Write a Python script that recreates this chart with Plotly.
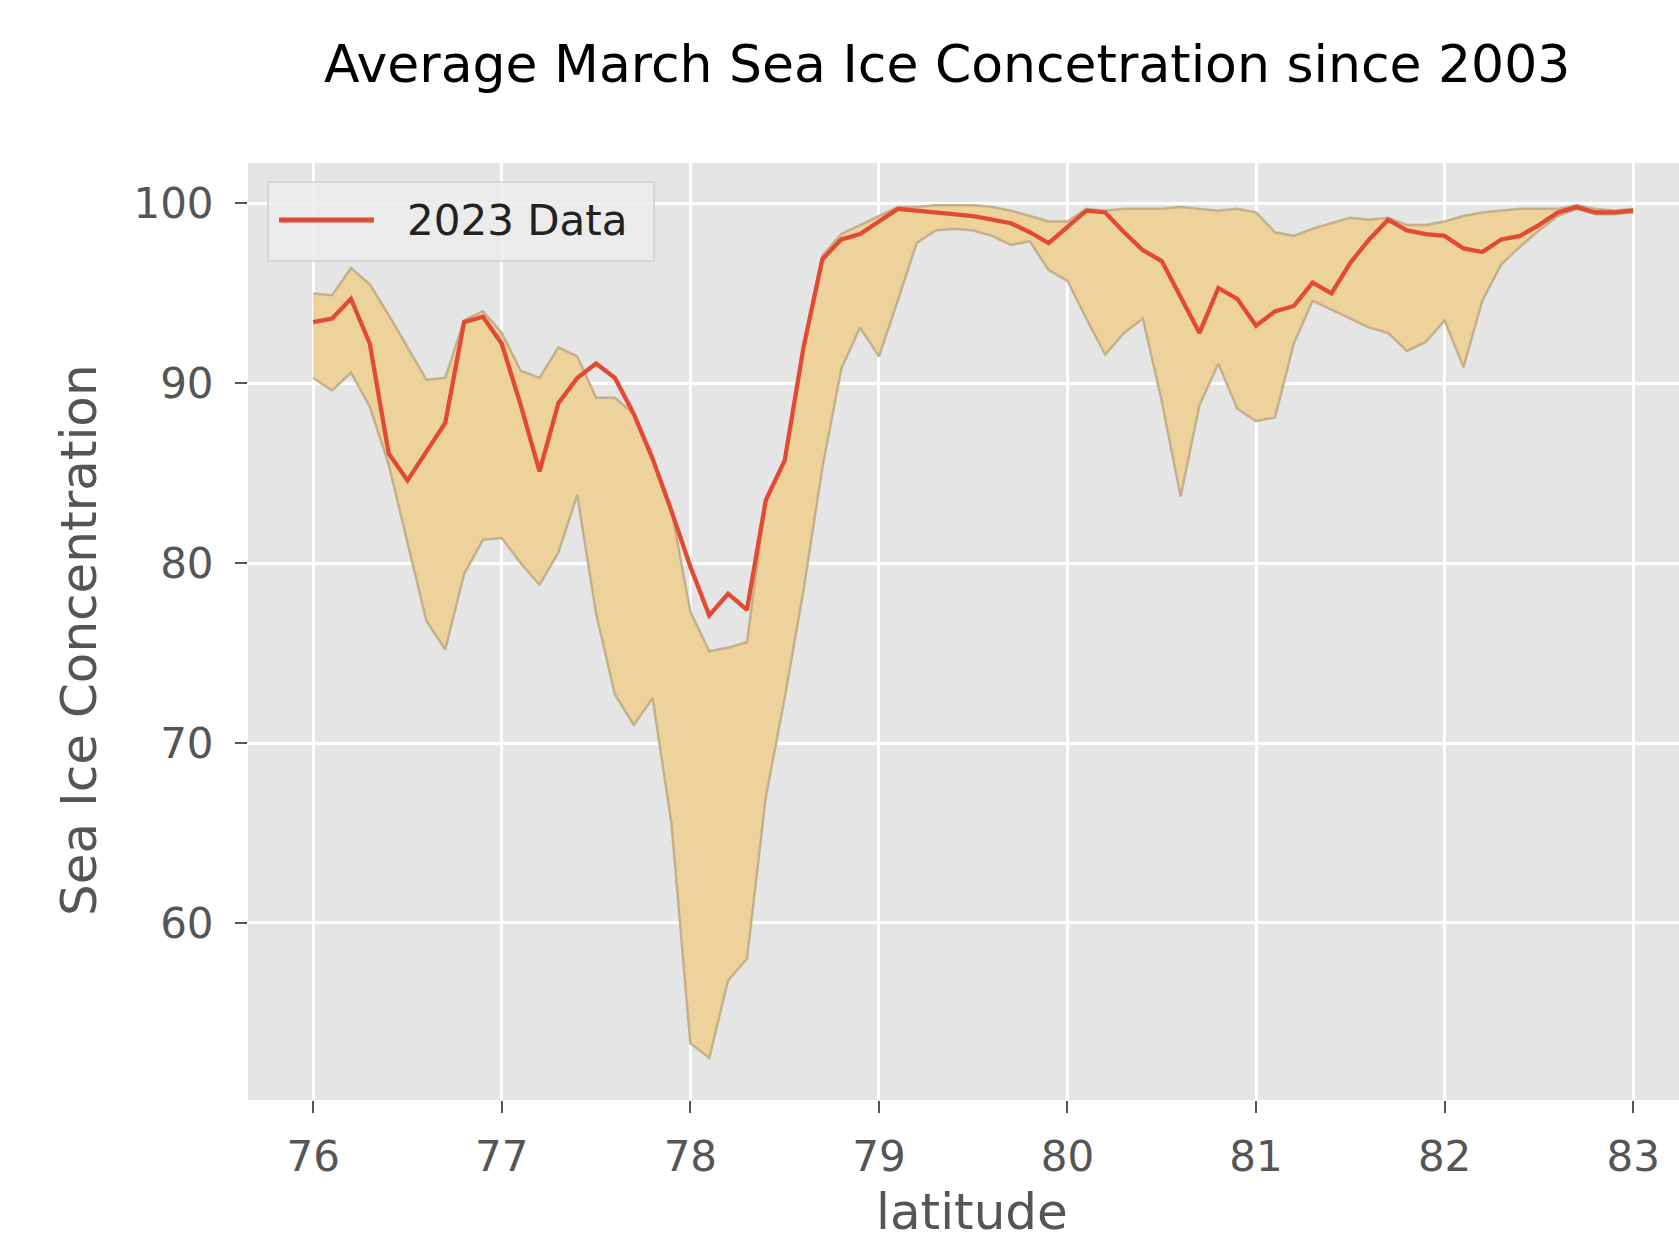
import plotly.graph_objects as go

# ---- data ----
latitude = [76.0, 76.1, 76.2, 76.3, 76.4, 76.5, 76.6, 76.7, 76.8, 76.9,
            77.0, 77.1, 77.2, 77.3, 77.4, 77.5, 77.6, 77.7, 77.8, 77.9,
            78.0, 78.1, 78.2, 78.3, 78.4, 78.5, 78.6, 78.7, 78.8, 78.9,
            79.0, 79.1, 79.2, 79.3, 79.4, 79.5, 79.6, 79.7, 79.8, 79.9,
            80.0, 80.1, 80.2, 80.3, 80.4, 80.5, 80.6, 80.7, 80.8, 80.9,
            81.0, 81.1, 81.2, 81.3, 81.4, 81.5, 81.6, 81.7, 81.8, 81.9,
            82.0, 82.1, 82.2, 82.3, 82.4, 82.5, 82.6, 82.7, 82.8, 82.9,
            83.0]

data_2023 = [93.4, 93.6, 94.7, 92.2, 86.1, 84.6, 86.2, 87.8, 93.4, 93.7,
             92.2, 88.8, 85.1, 88.9, 90.3, 91.1, 90.3, 88.3, 85.8, 82.9,
             79.8, 77.1, 78.3, 77.4, 83.5, 85.7, 92.0, 96.9, 98.0, 98.3,
             99.0, 99.7, 99.6, 99.5, 99.4, 99.3, 99.1, 98.9, 98.4, 97.8,
             98.7, 99.6, 99.5, 98.4, 97.4, 96.8, 94.8, 92.8, 95.3, 94.7,
             93.2, 94.0, 94.3, 95.6, 95.0, 96.7, 98.0, 99.1, 98.5, 98.3,
             98.2, 97.5, 97.3, 98.0, 98.2, 98.8, 99.5, 99.8, 99.5, 99.5,
             99.6]

max_since_2003 = [95.0, 94.9, 96.4, 95.5, 93.8, 92.0, 90.2, 90.3, 93.5, 94.0,
                  92.8, 90.7, 90.3, 92.0, 91.5, 89.2, 89.2, 88.3, 85.8, 82.9,
                  77.3, 75.1, 75.3, 75.6, 83.5, 85.8, 92.1, 97.1, 98.3, 98.8,
                  99.3, 99.8, 99.8, 99.9, 99.9, 99.9, 99.8, 99.6, 99.3, 99.0,
                  99.0, 99.7, 99.6, 99.7, 99.7, 99.7, 99.8, 99.7, 99.6, 99.7,
                  99.5, 98.4, 98.2, 98.6, 98.9, 99.2, 99.1, 99.2, 98.8, 98.8,
                  99.0, 99.3, 99.5, 99.6, 99.7, 99.7, 99.7, 99.9, 99.7, 99.6,
                  99.7]

min_since_2003 = [90.3, 89.6, 90.6, 88.7, 85.5, 81.2, 76.8, 75.2, 79.4, 81.3,
                  81.4, 80.0, 78.8, 80.6, 83.8, 77.2, 72.7, 71.0, 72.5, 65.5,
                  53.3, 52.5, 56.8, 58.0, 67.0, 72.5, 78.5, 85.3, 90.8, 93.1,
                  91.5, 94.6, 97.8, 98.5, 98.6, 98.5, 98.2, 97.7, 97.9, 96.3,
                  95.7, 93.6, 91.6, 92.8, 93.6, 89.0, 83.7, 88.8, 91.1, 88.6,
                  87.9, 88.1, 92.2, 94.6, 94.1, 93.6, 93.1, 92.8, 91.8, 92.3,
                  93.5, 90.9, 94.6, 96.6, 97.6, 98.5, 99.3, 99.7, 99.4, 99.4,
                  99.5]

x_ticks = [76, 77, 78, 79, 80, 81, 82, 83]
x_tick_labels = ["76", "77", "78", "79", "80", "81", "82", "83"]
y_ticks = [50, 60, 70, 80, 90, 100]
y_tick_labels = ["50", "60", "70", "80", "90", "100"]

title_text = "Average March Sea Ice Concetration since 2003"
x_label = "latitude"
y_label = "Sea Ice Concentration"
legend_label = "2023 Data"

# ---- styling ----
FONT = "DejaVu Sans"
RED = "#E24A33"
FILL = "#EDD29C"
EDGE = "#C4B08A"
TICK_GREY = "#555555"

W, H = 1679, 1245
L, R, T, B = 248, 0, 163, 145
PW, PH = W - L - R, H - T - B


def px_x(p):
    return (p - L) / PW


def px_y(p):
    return (H - B - p) / PH


fig = go.Figure()

fig.add_trace(go.Scatter(
    x=latitude, y=min_since_2003, mode="lines",
    line=dict(color=EDGE, width=2.5), showlegend=False, hoverinfo="skip"))
fig.add_trace(go.Scatter(
    x=latitude, y=max_since_2003, mode="lines", fill="tonexty",
    fillcolor=FILL, line=dict(color=EDGE, width=2.5),
    showlegend=False, hoverinfo="skip"))
fig.add_trace(go.Scatter(
    x=latitude, y=data_2023, mode="lines", name=legend_label,
    line=dict(color=RED, width=4.3), showlegend=False))

axis_common = dict(
    showgrid=True, gridcolor="white", gridwidth=2.5,
    zeroline=False, showline=False,
    ticks="outside", ticklen=12, tickwidth=2, tickcolor=TICK_GREY,
    tickfont=dict(family=FONT, size=42, color=TICK_GREY),
)

fig.update_xaxes(range=[75.654, 83.243], tickvals=x_ticks, ticktext=x_tick_labels,
                 ticklabelstandoff=8, **axis_common)
fig.update_yaxes(range=[50.15, 102.25], tickvals=y_ticks, ticktext=y_tick_labels,
                 ticklabelstandoff=13, **axis_common)

annotations = [
    dict(text=title_text, x=px_x(947), y=px_y(64), xref="paper", yref="paper",
         xanchor="center", yanchor="middle", showarrow=False,
         font=dict(family=FONT, size=52, color="black")),
    dict(text=x_label, x=px_x(972), y=px_y(1212), xref="paper", yref="paper",
         xanchor="center", yanchor="middle", showarrow=False,
         font=dict(family=FONT, size=50, color=TICK_GREY)),
    dict(text=y_label, x=px_x(79), y=px_y(640), xref="paper", yref="paper",
         xanchor="center", yanchor="middle", showarrow=False, textangle=-90,
         font=dict(family=FONT, size=50, color=TICK_GREY)),
    dict(text=legend_label, x=px_x(405), y=px_y(220), xref="paper", yref="paper",
         xanchor="left", yanchor="middle", showarrow=False,
         font=dict(family=FONT, size=42, color="#222222")),
]

shapes = [
    dict(type="rect", xref="paper", yref="paper",
         x0=px_x(268), x1=px_x(654), y0=px_y(261), y1=px_y(182),
         fillcolor="rgba(236,236,236,0.85)", line=dict(color="#D0D0D0", width=1.5),
         layer="above"),
    dict(type="line", xref="paper", yref="paper",
         x0=px_x(279), x1=px_x(374), y0=px_y(220), y1=px_y(220),
         line=dict(color=RED, width=5), layer="above"),
]

fig.update_layout(
    width=W, height=H,
    margin=dict(l=L, r=R, t=T, b=B, pad=0),
    plot_bgcolor="#E5E5E5", paper_bgcolor="white",
    font=dict(family=FONT),
    showlegend=False,
    annotations=annotations,
    shapes=shapes,
)

fig.write_html(
    "out.html",
    config={"displayModeBar": False},
    post_script="document.body.style.margin='0px';"
                "document.body.style.padding='0px';"
                "document.body.style.overflow='hidden';",
)
